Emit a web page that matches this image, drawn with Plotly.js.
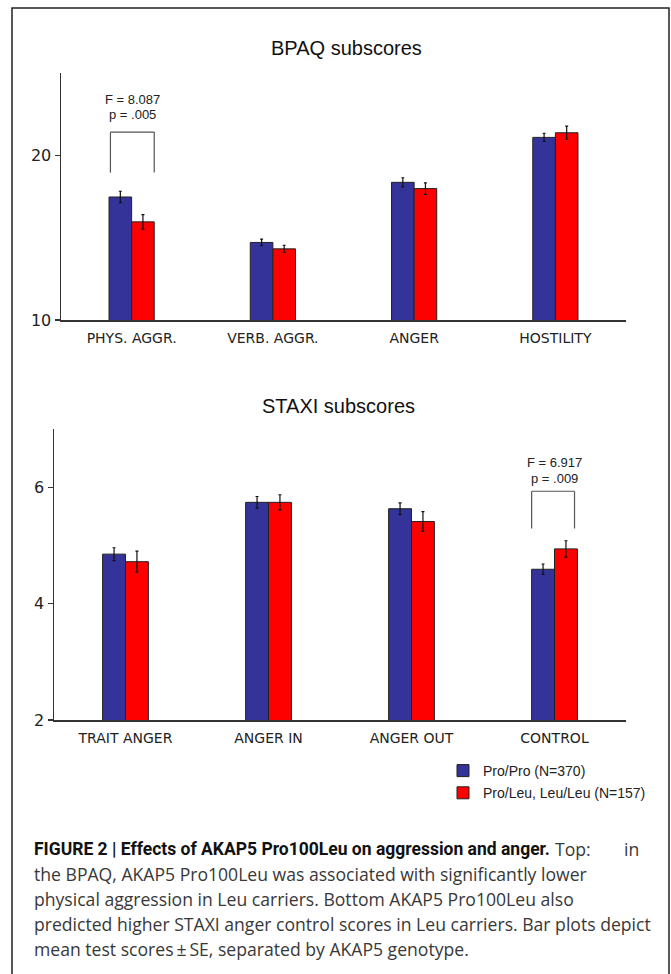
<!DOCTYPE html>
<html>
<head>
<meta charset="utf-8">
<script src="https://cdn.plot.ly/plotly-3.0.1.min.js"></script>
<style>html,body{margin:0;padding:0;background:#fff;}#chart{width:671px;height:974px;}</style>
</head>
<body>
<div id="chart"></div>
<script>
// ---- Data ----
const bpaqCategories = ['PHYS. AGGR.', 'VERB. AGGR.', 'ANGER', 'HOSTILITY'];
const bpaqProPro = [17.47, 14.71, 18.36, 21.09];
const bpaqProProSE = [0.35, 0.20, 0.28, 0.25];
const bpaqLeu = [15.96, 14.32, 17.98, 21.37];
const bpaqLeuSE = [0.44, 0.22, 0.35, 0.40];

const staxiCategories = ['TRAIT ANGER', 'ANGER IN', 'ANGER OUT', 'CONTROL'];
const staxiProPro = [4.85, 5.74, 5.63, 4.59];
const staxiProProSE = [0.11, 0.10, 0.10, 0.09];
const staxiLeu = [4.72, 5.74, 5.41, 4.94];
const staxiLeuSE = [0.18, 0.13, 0.17, 0.14];

const groupNames = ['Pro/Pro (N=370)', 'Pro/Leu, Leu/Leu (N=157)'];

// ---- Styles ----
const BLUE = '#333399';
const RED = '#ff0000';
const AXIS = '#333333';
const tickFont = {family: 'DejaVu Sans', size: 16, color: '#222'};
const catFont = {family: 'DejaVu Sans', size: 14, color: '#222'};

function barTrace(cats, vals, se, name, color, xa, ya, showlegend) {
  return {
    type: 'bar', x: cats, y: vals, name: name, xaxis: xa, yaxis: ya,
    showlegend: showlegend, legendgroup: name,
    marker: {color: color, line: {color: '#222', width: 1}},
    error_y: {type: 'data', array: se, visible: true, color: '#111', thickness: 1.2, width: 1.5},
    hoverinfo: 'x+y'
  };
}

const traces = [
  barTrace(bpaqCategories, bpaqProPro, bpaqProProSE, groupNames[0], BLUE, 'x', 'y', true),
  barTrace(bpaqCategories, bpaqLeu, bpaqLeuSE, groupNames[1], RED, 'x', 'y', true),
  barTrace(staxiCategories, staxiProPro, staxiProProSE, groupNames[0], BLUE, 'x2', 'y2', false),
  barTrace(staxiCategories, staxiLeu, staxiLeuSE, groupNames[1], RED, 'x2', 'y2', false)
];

const W = 671, H = 974;
const px = v => v / W;
const py = v => 1 - v / H;

function xAxis(domain) {
  return {domain: domain, showline: true, linecolor: AXIS, linewidth: 1.5, ticks: '',
    showgrid: false, zeroline: false, tickfont: catFont, fixedrange: true, ticklabelstandoff: 5};
}
function yAxis(domain, range, tickvals) {
  return {domain: domain, range: range, tickvals: tickvals, ticks: 'outside', ticklen: 5,
    tickcolor: AXIS, tickwidth: 1.2, showline: true, linecolor: AXIS, linewidth: 1.5,
    showgrid: false, zeroline: false, tickfont: tickFont, fixedrange: true};
}

function bracket(xa, ya, c, dl, dr, yb, yt) {
  const s = {type: 'line', xref: xa, yref: ya, line: {color: '#555', width: 1.2}};
  return [
    Object.assign({}, s, {x0: c + dl, x1: c + dl, y0: yb, y1: yt}),
    Object.assign({}, s, {x0: c + dl, x1: c + dr, y0: yt, y1: yt}),
    Object.assign({}, s, {x0: c + dr, x1: c + dr, y0: yb, y1: yt})
  ];
}

const statFont = {family: 'Liberation Sans', size: 13, color: '#222'};
const capReg = {family: 'Open Sans', size: 17.6, color: '#383838'};
const capBold = {family: 'Roboto', size: 17.5, color: '#111'};

const captionLines = [
  'the BPAQ, AKAP5 Pro100Leu was associated with significantly lower',
  'physical aggression in Leu carriers. Bottom AKAP5 Pro100Leu also',
  'predicted higher STAXI anger control scores in Leu carriers. Bar plots depict',
  'mean test scores\u2009\u00b1\u2009SE, separated by AKAP5 genotype.'
];

const annotations = [
  {text: 'BPAQ subscores', xref: 'paper', yref: 'paper', x: px(346), y: py(48), xanchor: 'center', yanchor: 'middle',
   showarrow: false, font: {family: 'Liberation Sans', size: 20, color: '#111'}},
  {text: 'STAXI subscores', xref: 'paper', yref: 'paper', x: px(338), y: py(406), xanchor: 'center', yanchor: 'middle',
   showarrow: false, font: {family: 'Liberation Sans', size: 20, color: '#111'}},
  {text: 'F = 8.087', xref: 'x', yref: 'y', x: 0, y: 23.41, showarrow: false, font: statFont, xshift: 1},
  {text: 'p = .005', xref: 'x', yref: 'y', x: 0, y: 22.47, showarrow: false, font: statFont, xshift: 1},
  {text: 'F = 6.917', xref: 'x2', yref: 'y2', x: 3, y: 6.43, showarrow: false, font: statFont},
  {text: 'p = .009', xref: 'x2', yref: 'y2', x: 3, y: 6.15, showarrow: false, font: statFont},
  {text: '<b>FIGURE 2 | Effects of AKAP5 Pro100Leu on aggression and anger.</b>', xref: 'paper', yref: 'paper',
   x: px(32), y: py(849), xanchor: 'left', yanchor: 'middle', showarrow: false, font: capBold},
  {text: 'Top:', xref: 'paper', yref: 'paper', x: px(553), y: py(849), xanchor: 'left', yanchor: 'middle',
   showarrow: false, font: capReg},
  {text: 'in', xref: 'paper', yref: 'paper', x: px(641), y: py(849), xanchor: 'right', yanchor: 'middle',
   showarrow: false, font: capReg}
];
captionLines.forEach((t, i) => annotations.push({text: t, xref: 'paper', yref: 'paper', x: px(32), y: py(874 + 25 * i),
  xanchor: 'left', yanchor: 'middle', showarrow: false, font: capReg}));

const shapes = [].concat(
  bracket('x', 'y', 0, -0.15, 0.16, 18.95, 21.41),
  bracket('x2', 'y2', 3, -0.16, 0.14, 5.29, 5.93),
  [{type: 'rect', xref: 'paper', yref: 'paper', x0: px(12), x1: px(669), y0: -0.02, y1: py(8),
    line: {color: '#222', width: 1.5}, fillcolor: 'rgba(0,0,0,0)', layer: 'below'}]
);

const layout = {
  width: W, height: H, margin: {l: 0, r: 0, t: 0, b: 0},
  paper_bgcolor: '#fff', plot_bgcolor: 'rgba(0,0,0,0)',
  barmode: 'group', bargap: 0.68, bargroupgap: 0,
  xaxis: xAxis([px(61), px(626)]),
  yaxis: yAxis([1 - 320 / H, 1 - 73 / H], [10, 25], [10, 20]),
  xaxis2: xAxis([px(54), px(626)]),
  yaxis2: yAxis([1 - 720 / H, 1 - 429 / H], [2, 7], [2, 4, 6]),
  showlegend: true,
  legend: {x: px(443), y: py(755), xanchor: 'left', yanchor: 'top', bgcolor: 'rgba(0,0,0,0)',
    font: {family: 'Liberation Sans', size: 14, color: '#222'}, tracegroupgap: 1, itemwidth: 30},
  annotations: annotations,
  shapes: shapes,
  font: {family: 'Liberation Sans'}
};
layout.yaxis2.anchor = 'x2';
layout.xaxis2.anchor = 'y2';

Plotly.newPlot('chart', traces, layout, {displayModeBar: false, staticPlot: true});
</script>
</body>
</html>
